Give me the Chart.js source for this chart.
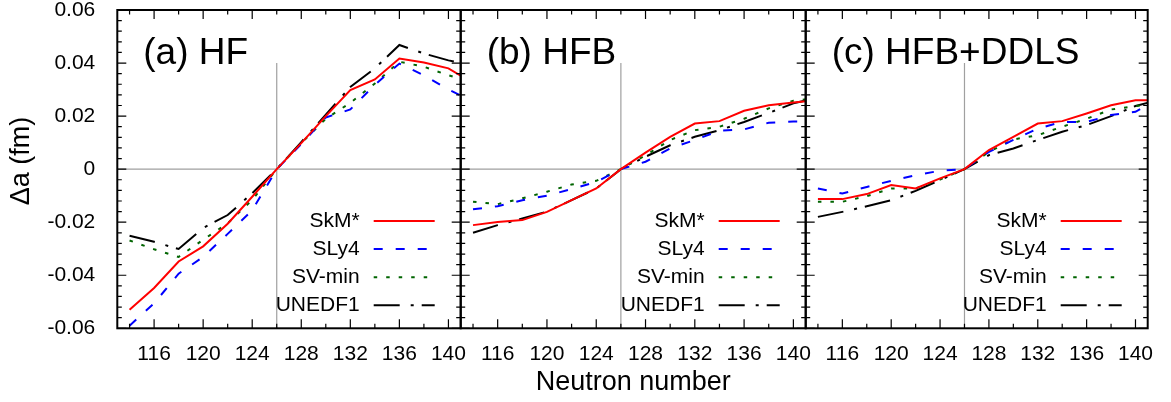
<!DOCTYPE html>
<html>
<head>
<meta charset="utf-8">
<script src="https://cdn.jsdelivr.net/npm/chart.js@4.4.1/dist/chart.umd.min.js"></script>
<style>
  html, body { margin: 0; padding: 0; background: #fff; }
  #wrap { position: relative; width: 1171px; height: 402px; overflow: hidden; }
  canvas { position: absolute; top: 0; }
</style>
</head>
<body>
<div id="wrap">
  <canvas id="panelA" width="470" height="402" style="left:0px"></canvas>
  <canvas id="panelB" width="364" height="402" style="left:451px"></canvas>
  <canvas id="panelC" width="375" height="402" style="left:796px"></canvas>
</div>
<script>
// neutron numbers (last one lies past the frame and gets clipped)
const neutrons = [114, 116, 118, 120, 122, 124, 126, 128, 130, 132, 134, 136, 138, 140, 142];
const xTicks = [116, 120, 124, 128, 132, 136, 140];
const yTicks = [-0.06, -0.04, -0.02, 0, 0.02, 0.04, 0.06];
const models = ['SkM*', 'SLy4', 'SV-min', 'UNEDF1'];
const panelLabels = ['(a) HF', '(b) HFB', '(c) HFB+DDLS'];
const refN = 126;

// (a) HF
const hfSkM    = [-0.0530, -0.0448, -0.0348, -0.0291, -0.0206, -0.0104, 0, 0.0098, 0.0200, 0.0298, 0.0338, 0.0417, 0.0402, 0.0380, 0.0325];
const hfSLy4   = [-0.0590, -0.0506, -0.0394, -0.0331, -0.0244, -0.0155, 0, 0.0095, 0.0195, 0.0225, 0.0318, 0.0398, 0.0354, 0.0300, 0.0255];
const hfSVmin  = [-0.0269, -0.0302, -0.0331, -0.0266, -0.0204, -0.0116, 0, 0.0098, 0.0190, 0.0250, 0.0323, 0.0405, 0.0386, 0.0354, 0.0325];
const hfUNEDF1 = [-0.0251, -0.0274, -0.0301, -0.0222, -0.0173, -0.0091, 0, 0.0102, 0.0205, 0.0310, 0.0380, 0.0468, 0.0436, 0.0410, 0.0390];

// (b) HFB
const hfbSkM    = [-0.0211, -0.0199, -0.0192, -0.0161, -0.0117, -0.0073, 0, 0.0062, 0.0122, 0.0172, 0.0181, 0.0220, 0.0241, 0.0251, 0.0260];
const hfbSLy4   = [-0.0151, -0.0140, -0.0117, -0.0100, -0.0075, -0.0048, 0, 0.0028, 0.0078, 0.0110, 0.0145, 0.0150, 0.0175, 0.0180, 0.0180];
const hfbSVmin  = [-0.0123, -0.0132, -0.0110, -0.0085, -0.0058, -0.0044, 0, 0.0052, 0.0110, 0.0147, 0.0160, 0.0190, 0.0229, 0.0258, 0.0268];
const hfbUNEDF1 = [-0.0240, -0.0211, -0.0186, -0.0160, -0.0117, -0.0073, 0, 0.0047, 0.0090, 0.0122, 0.0147, 0.0178, 0.0212, 0.0248, 0.0270];

// (c) HFB+DDLS
const ddlsSkM    = [-0.0113, -0.0113, -0.0094, -0.0060, -0.0073, -0.0035, 0, 0.0072, 0.0122, 0.0172, 0.0181, 0.0210, 0.0241, 0.0260, 0.0260];
const ddlsSLy4   = [-0.0073, -0.0092, -0.0067, -0.0044, -0.0023, -0.0006, 0, 0.0065, 0.0110, 0.0153, 0.0178, 0.0178, 0.0204, 0.0216, 0.0270];
const ddlsSVmin  = [-0.0123, -0.0123, -0.0102, -0.0073, -0.0073, -0.0039, 0, 0.0065, 0.0112, 0.0128, 0.0160, 0.0190, 0.0225, 0.0238, 0.0250];
const ddlsUNEDF1 = [-0.0180, -0.0161, -0.0140, -0.0117, -0.0082, -0.0041, 0, 0.0053, 0.0078, 0.0110, 0.0141, 0.0166, 0.0200, 0.0238, 0.0262];

const styles = [
  { color: '#ff0000', dash: [] },
  { color: '#0000ff', dash: [9, 13] },
  { color: '#006400', dash: [3.5, 9] },
  { color: '#000000', dash: [26, 11, 3, 8] }
];

const FONT = "'Liberation Sans', Arial, Helvetica, sans-serif";
Chart.defaults.font.family = FONT;
Chart.defaults.color = '#000';

// frame, inward ticks, reference lines, legend and panel label
const decor = {
  id: 'decor',
  beforeDatasetsDraw(chart) {
    const { ctx, chartArea: a, scales: { x, y } } = chart;
    ctx.save();
    ctx.strokeStyle = '#a0a0a0';
    ctx.lineWidth = 1.2;
    ctx.beginPath();
    const y0 = y.getPixelForValue(0);
    ctx.moveTo(a.left, y0);
    ctx.lineTo(a.right, y0);
    const xr = x.getPixelForValue(refN);
    ctx.moveTo(xr, y.getPixelForValue(0.04));
    ctx.lineTo(xr, a.bottom);
    ctx.stroke();
    ctx.restore();
  },
  afterDatasetsDraw(chart, args, opts) {
    const { ctx, chartArea: a, scales: { x, y } } = chart;
    ctx.save();
    ctx.strokeStyle = '#000';
    ctx.lineWidth = 1.2;
    ctx.beginPath();
    for (let n = 114; n <= 140; n += 2) {
      const px = x.getPixelForValue(n);
      const len = xTicks.includes(n) ? 9 : 4.5;
      ctx.moveTo(px, a.bottom); ctx.lineTo(px, a.bottom - len);
      ctx.moveTo(px, a.top); ctx.lineTo(px, a.top + len);
    }
    for (let k = -15; k <= 15; k++) {
      const py = y.getPixelForValue(k * 0.004);
      const len = k % 5 === 0 ? 9 : 4.5;
      ctx.moveTo(a.left, py); ctx.lineTo(a.left + len, py);
      ctx.moveTo(a.right, py); ctx.lineTo(a.right - len, py);
    }
    ctx.stroke();
    ctx.lineWidth = 2;
    ctx.strokeRect(a.left, a.top, a.right - a.left, a.bottom - a.top);

    // legend
    ctx.font = '21px ' + FONT;
    ctx.fillStyle = '#000';
    ctx.textAlign = 'right';
    ctx.textBaseline = 'middle';
    chart.data.datasets.forEach((ds, i) => {
      const ry = a.top + 211 + i * 28.1;
      ctx.fillText(ds.label, a.right - 101, ry);
      ctx.strokeStyle = ds.borderColor;
      ctx.lineWidth = ds.borderWidth;
      ctx.setLineDash(ds.borderDash);
      ctx.beginPath();
      ctx.moveTo(a.right - 87, ry);
      ctx.lineTo(a.right - 26, ry);
      ctx.stroke();
      ctx.setLineDash([]);
    });

    // panel label
    ctx.font = '37px ' + FONT;
    ctx.textAlign = 'left';
    ctx.textBaseline = 'alphabetic';
    ctx.fillText(opts.label, a.left + 26, a.top + 53.5);

    if (opts.yTitle) {
      ctx.translate(22, 161);
      ctx.rotate(-Math.PI / 2);
      ctx.font = '27px ' + FONT;
      ctx.textAlign = 'center';
      ctx.textBaseline = 'middle';
      ctx.fillText('\u0394a (fm)', 0, 0);
    }
    ctx.restore();
  }
};

function makePanel(id, series, idx, pad) {
  const datasets = series.map((vals, i) => ({
    label: models[i],
    data: neutrons.map((n, j) => ({ x: n, y: vals[j] })),
    borderColor: styles[i].color,
    borderDash: styles[i].dash,
    borderWidth: 2,
    pointRadius: 0,
    tension: 0,
    fill: false,
    clip: 0
  }));
  const first = idx === 0;
  return new Chart(document.getElementById(id), {
    type: 'line',
    data: { datasets },
    plugins: [decor],
    options: {
      responsive: false,
      animation: false,
      events: [],
      layout: { padding: { left: pad.left, right: pad.right, top: 10, bottom: 0 } },
      plugins: {
        legend: { display: false },
        tooltip: { enabled: false },
        decor: { label: panelLabels[idx], yTitle: first }
      },
      scales: {
        x: {
          type: 'linear',
          min: 113,
          max: 141,
          grid: { display: false },
          border: { display: false },
          afterBuildTicks: s => { s.ticks = xTicks.map(v => ({ value: v })); },
          afterFit: s => { s.height = 73.7; s.paddingLeft = 0; s.paddingRight = 0; },
          ticks: { font: { size: 21 }, padding: 5, maxRotation: 0, autoSkip: false },
          title: {
            display: idx === 1,
            text: 'Neutron number',
            font: { size: 27 },
            padding: { top: 0, bottom: 3 }
          }
        },
        y: {
          type: 'linear',
          min: -0.06,
          max: 0.06,
          display: first,
          grid: { display: false },
          border: { display: false },
          afterBuildTicks: s => { s.ticks = yTicks.map(v => ({ value: v })); },
          afterFit: s => {
            if (first) s.width = 117.3;
            s.paddingTop = 0;
            s.paddingBottom = 0;
          },
          ticks: {
            font: { size: 21 },
            padding: 14,
            callback: v => (v === 0 ? '0' : v.toFixed(2))
          }
        }
      }
    }
  });
}

makePanel('panelA', [hfSkM, hfSLy4, hfSVmin, hfUNEDF1], 0, { left: 0, right: 9.3 });
makePanel('panelB', [hfbSkM, hfbSLy4, hfbSVmin, hfbUNEDF1], 1, { left: 9.7, right: 9.3 });
makePanel('panelC', [ddlsSkM, ddlsSLy4, ddlsSVmin, ddlsUNEDF1], 2, { left: 9.7, right: 23.3 });
</script>
</body>
</html>
